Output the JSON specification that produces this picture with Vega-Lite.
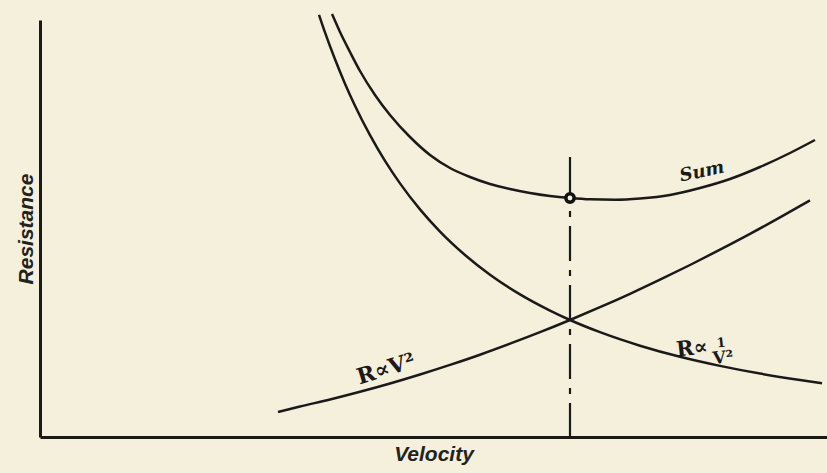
{
  "$schema": "https://vega.github.io/schema/vega-lite/v6.json",
  "width": 787,
  "height": 417,
  "autosize": {"type": "none"},
  "padding": {"left": 40, "top": 20, "right": 0, "bottom": 36},
  "background": "#f4f0dc",
  "config": {
    "view": {"stroke": null},
    "axis": {
      "domain": true,
      "domainColor": "#1a1a1a",
      "domainWidth": 3,
      "ticks": false,
      "labels": false,
      "grid": false,
      "titleFont": "Liberation Sans",
      "titleFontStyle": "italic",
      "titleFontWeight": "bold",
      "titleFontSize": 21,
      "titleColor": "#222222"
    }
  },
  "datasets": {
    "curves": [
      {"curve": "inv", "V": 279, "R": 422.2},
      {"curve": "inv", "V": 285, "R": 404.6},
      {"curve": "inv", "V": 295, "R": 377.7},
      {"curve": "inv", "V": 305, "R": 353.3},
      {"curve": "inv", "V": 315, "R": 331.2},
      {"curve": "inv", "V": 330, "R": 301.8},
      {"curve": "inv", "V": 345, "R": 276.1},
      {"curve": "inv", "V": 360, "R": 253.6},
      {"curve": "inv", "V": 380, "R": 227.6},
      {"curve": "inv", "V": 400, "R": 205.4},
      {"curve": "inv", "V": 425, "R": 182.0},
      {"curve": "inv", "V": 450, "R": 162.3},
      {"curve": "inv", "V": 480, "R": 142.6},
      {"curve": "inv", "V": 510, "R": 126.4},
      {"curve": "inv", "V": 530, "R": 117.0},
      {"curve": "inv", "V": 560, "R": 104.8},
      {"curve": "inv", "V": 600, "R": 91.3},
      {"curve": "inv", "V": 640, "R": 80.2},
      {"curve": "inv", "V": 680, "R": 71.1},
      {"curve": "inv", "V": 720, "R": 63.4},
      {"curve": "inv", "V": 760, "R": 56.9},
      {"curve": "inv", "V": 782, "R": 53.7},
      {"curve": "sq", "V": 238, "R": 25.0},
      {"curve": "sq", "V": 260, "R": 30.5},
      {"curve": "sq", "V": 290, "R": 37.5},
      {"curve": "sq", "V": 320, "R": 45.2},
      {"curve": "sq", "V": 350, "R": 53.5},
      {"curve": "sq", "V": 380, "R": 62.5},
      {"curve": "sq", "V": 410, "R": 72.1},
      {"curve": "sq", "V": 440, "R": 82.3},
      {"curve": "sq", "V": 470, "R": 93.3},
      {"curve": "sq", "V": 500, "R": 104.8},
      {"curve": "sq", "V": 530, "R": 117.0},
      {"curve": "sq", "V": 560, "R": 129.8},
      {"curve": "sq", "V": 590, "R": 143.2},
      {"curve": "sq", "V": 620, "R": 157.3},
      {"curve": "sq", "V": 650, "R": 172.0},
      {"curve": "sq", "V": 680, "R": 187.3},
      {"curve": "sq", "V": 710, "R": 203.1},
      {"curve": "sq", "V": 740, "R": 219.6},
      {"curve": "sq", "V": 770, "R": 236.7},
      {"curve": "sum", "V": 292, "R": 423},
      {"curve": "sum", "V": 300, "R": 405},
      {"curve": "sum", "V": 310, "R": 385},
      {"curve": "sum", "V": 320, "R": 366},
      {"curve": "sum", "V": 335, "R": 342},
      {"curve": "sum", "V": 350, "R": 322},
      {"curve": "sum", "V": 370, "R": 300},
      {"curve": "sum", "V": 390, "R": 282},
      {"curve": "sum", "V": 410, "R": 269},
      {"curve": "sum", "V": 430, "R": 260},
      {"curve": "sum", "V": 450, "R": 253},
      {"curve": "sum", "V": 470, "R": 248},
      {"curve": "sum", "V": 490, "R": 244},
      {"curve": "sum", "V": 510, "R": 241},
      {"curve": "sum", "V": 530, "R": 239},
      {"curve": "sum", "V": 550, "R": 237.7},
      {"curve": "sum", "V": 575, "R": 237.3},
      {"curve": "sum", "V": 600, "R": 238.5},
      {"curve": "sum", "V": 630, "R": 242},
      {"curve": "sum", "V": 660, "R": 249},
      {"curve": "sum", "V": 690, "R": 258},
      {"curve": "sum", "V": 720, "R": 270},
      {"curve": "sum", "V": 750, "R": 284},
      {"curve": "sum", "V": 775, "R": 297}
    ],
    "solidRule": [{"V": 530, "R": 280, "R2": 239}],
    "dashRule": [{"V": 530, "R": 239, "R2": 0}],
    "minPoint": [{"V": 530, "R": 239}],
    "sumLabel": [{"V": 662, "R": 265, "label": "Sum"}],
    "sqLabel": [{"V": 346, "R": 68, "label": "R∝V²"}],
    "invLabelA": [{"V": 652, "R": 88, "label": "R∝"}],
    "invLabelNum": [{"V": 681, "R": 94, "label": "1"}],
    "invLabelDen": [{"V": 683, "R": 79, "label": "V²"}]
  },
  "encoding": {
    "x": {
      "field": "V",
      "type": "quantitative",
      "scale": {"domain": [0, 787], "nice": false, "zero": false},
      "axis": {"title": "Velocity", "titlePadding": 6}
    },
    "y": {
      "field": "R",
      "type": "quantitative",
      "scale": {"domain": [0, 417], "nice": false, "zero": false},
      "axis": {"title": "Resistance", "titlePadding": 4}
    }
  },
  "layer": [
    {
      "data": {"name": "curves"},
      "mark": {"type": "line", "color": "#1a1a1a", "strokeWidth": 2.5, "interpolate": "monotone"},
      "encoding": {"detail": {"field": "curve"}}
    },
    {
      "data": {"name": "solidRule"},
      "mark": {"type": "rule", "color": "#1a1a1a", "strokeWidth": 2.2},
      "encoding": {"y2": {"field": "R2"}}
    },
    {
      "data": {"name": "dashRule"},
      "mark": {"type": "rule", "color": "#1a1a1a", "strokeWidth": 2.2, "strokeDash": [35, 9, 6, 9], "strokeDashOffset": 31},
      "encoding": {"y2": {"field": "R2"}}
    },
    {
      "data": {"name": "minPoint"},
      "mark": {"type": "point", "shape": "circle", "filled": true, "fill": "#f4f0dc", "stroke": "#111111", "strokeWidth": 3.5, "size": 70, "opacity": 1}
    },
    {
      "data": {"name": "sumLabel"},
      "mark": {"type": "text", "font": "DejaVu Serif", "fontStyle": "italic", "fontWeight": "bold", "fontSize": 18, "angle": 348, "color": "#1a1a1a", "align": "center", "baseline": "middle"},
      "encoding": {"text": {"field": "label"}}
    },
    {
      "data": {"name": "sqLabel"},
      "mark": {"type": "text", "font": "DejaVu Serif", "fontWeight": "bold", "fontSize": 22, "angle": 343, "color": "#1a1a1a", "align": "center", "baseline": "middle"},
      "encoding": {"text": {"field": "label"}}
    },
    {
      "data": {"name": "invLabelA"},
      "mark": {"type": "text", "font": "DejaVu Serif", "fontWeight": "bold", "fontSize": 21, "angle": 354, "color": "#1a1a1a", "align": "center", "baseline": "middle"},
      "encoding": {"text": {"field": "label"}}
    },
    {
      "data": {"name": "invLabelNum"},
      "mark": {"type": "text", "font": "DejaVu Serif", "fontWeight": "bold", "fontSize": 13, "angle": 354, "color": "#1a1a1a", "align": "center", "baseline": "middle"},
      "encoding": {"text": {"field": "label"}}
    },
    {
      "data": {"name": "invLabelDen"},
      "mark": {"type": "text", "font": "DejaVu Serif", "fontWeight": "bold", "fontSize": 17, "angle": 354, "color": "#1a1a1a", "align": "center", "baseline": "middle"},
      "encoding": {"text": {"field": "label"}}
    }
  ]
}
